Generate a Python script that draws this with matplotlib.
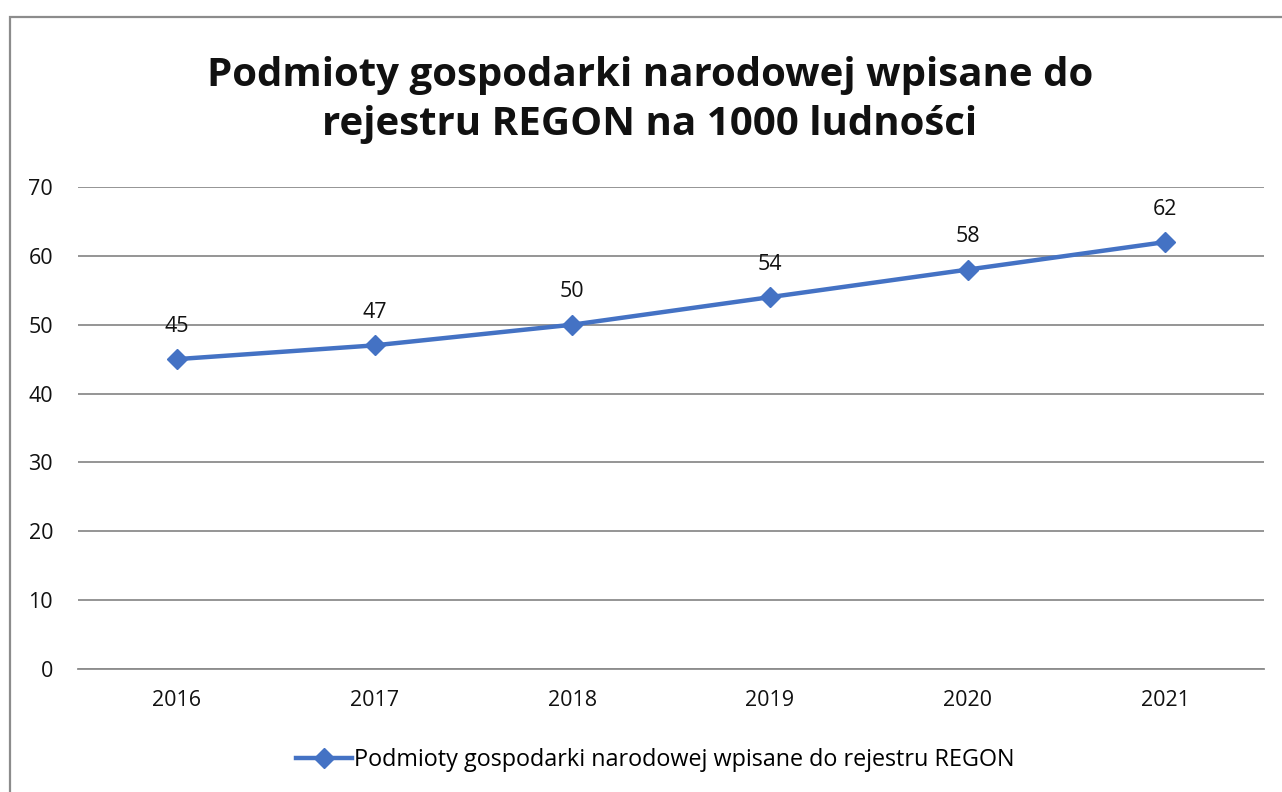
import matplotlib.pyplot as plt
from matplotlib.patches import Rectangle

years = ['2016', '2017', '2018', '2019', '2020', '2021']
values = [45, 47, 50, 54, 58, 62]
title = 'Podmioty gospodarki narodowej wpisane do\nrejestru REGON na 1000 ludności'
series_name = 'Podmioty gospodarki narodowej wpisane do rejestru REGON'

plt.rcParams['font.family'] = ['Open Sans', 'DejaVu Sans']

fig = plt.figure(figsize=(12.82, 7.92), dpi=100)
W, H = 1282, 792

# chart frame (extends past right and bottom edges)
fig.patches.append(Rectangle((10 / W, -0.05), 1.2, (H - 17) / H + 0.05,
                             transform=fig.transFigure, fill=False,
                             edgecolor='#8c8c8c', linewidth=1.6))

ax = fig.add_axes([78 / W, (H - 669) / H, (1264 - 78) / W, (669 - 187) / H])
x = range(len(years))
line, = ax.plot(x, values, color='#4472C4', linewidth=3.2, marker='D',
                markersize=10, label=series_name)
for xi, v in zip(x, values):
    ax.annotate(str(v), (xi, v), xytext=(0, 16), textcoords='offset points',
                ha='center', va='bottom', fontsize=15.5, color='#111111')

ax.set_xlim(-0.5, len(years) - 0.5)
ax.set_ylim(0, 70)
ax.set_yticks(range(0, 71, 10))
ax.set_xticks(list(x))
ax.set_xticklabels(years)
ax.grid(axis='y', color='#8c8c8c', linewidth=1.3)
ax.set_axisbelow(True)
for s in ['top', 'right', 'left']:
    ax.spines[s].set_visible(False)
ax.spines['bottom'].set_color('#8c8c8c')
ax.spines['bottom'].set_linewidth(1.3)
ax.tick_params(length=0, labelsize=15.5, colors='#111111', pad=15)
ax.tick_params(axis='y', pad=18)

fig.text(650 / W, 1 - 100 / H, title, ha='center', va='center',
         fontsize=29, fontweight='bold', linespacing=1.35, color='#111111')

fig.legend(handles=[line], loc='center', bbox_to_anchor=(655 / W, 1 - 760 / H),
           frameon=False, fontsize=16.8, handlelength=2.4, handletextpad=0.1,
           markerscale=1.0)

fig.savefig('out.png', dpi=100)
